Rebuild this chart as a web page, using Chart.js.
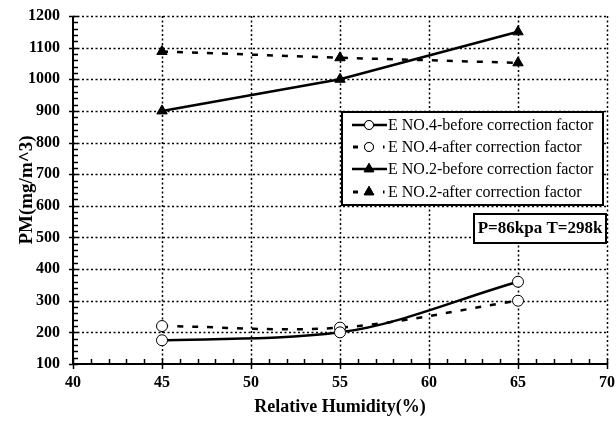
<!DOCTYPE html>
<html>
<head>
<meta charset="utf-8">
<script src="https://cdn.jsdelivr.net/npm/chart.js@4"></script>
<style>
html,body{margin:0;padding:0;background:#fff;}
#wrap{width:616px;height:421px;position:relative;}
</style>
</head>
<body>
<div id="wrap"><canvas id="c" width="616" height="421"></canvas></div>
<script>
// ---- data ----
const humidity = [45, 55, 65];
const no4Before = [175, 200, 360];
const no4After = [220, 215, 300];
const no2Before = [900, 1000, 1150];
const no2After = [1088, 1068, 1052];
const seriesLabels = [
  'E NO.4-before correction factor',
  'E NO.4-after correction factor',
  'E NO.2-before correction factor',
  'E NO.2-after correction factor'
];
const xTicks = [40, 45, 50, 55, 60, 65, 70];
const yTicks = [100, 200, 300, 400, 500, 600, 700, 800, 900, 1000, 1100, 1200];
const noteText = 'P=86kpa T=298k';

const pts = (ys) => humidity.map((x, i) => ({x: x, y: ys[i]}));
const SERIF = '"Liberation Serif","Times New Roman",serif';

const datasets = [
  {label: seriesLabels[0], data: pts(no4Before), borderColor:'#000', borderWidth:2.5, tension:0.4, cubicInterpolationMode:'monotone',
   pointStyle:'circle', pointRadius:5.5, pointBackgroundColor:'#fff', pointBorderColor:'#000', pointBorderWidth:1, borderDash:[]},
  {label: seriesLabels[1], data: pts(no4After), borderColor:'#000', borderWidth:2.5, tension:0.35,
   pointStyle:'circle', pointRadius:5.5, pointBackgroundColor:'#fff', pointBorderColor:'#000', pointBorderWidth:1, borderDash:[6,9]},
  {label: seriesLabels[2], data: pts(no2Before), borderColor:'#000', borderWidth:2.5, tension:0,
   pointStyle:'triangle', pointRadius:6, pointBackgroundColor:'#000', pointBorderColor:'#000', pointBorderWidth:1, borderDash:[]},
  {label: seriesLabels[3], data: pts(no2After), borderColor:'#000', borderWidth:2.5, tension:0,
   pointStyle:'triangle', pointRadius:6, pointBackgroundColor:'#000', pointBorderColor:'#000', pointBorderWidth:1, borderDash:[6,9]}
];

const decor = {
  id: 'decor',
  beforeDatasetsDraw(chart) {
    const ctx = chart.ctx, xs = chart.scales.x, ys = chart.scales.y, a = chart.chartArea;
    ctx.save();
    // dotted grid
    ctx.strokeStyle = '#000'; ctx.lineWidth = 1.5; ctx.setLineDash([2, 2.5]);
    xTicks.forEach(v => { if (v === xTicks[0]) return; const p = Math.round(xs.getPixelForValue(v)) + 0.5;
      ctx.beginPath(); ctx.moveTo(p, a.top); ctx.lineTo(p, a.bottom); ctx.stroke(); });
    yTicks.forEach(v => { if (v === yTicks[0]) return; const p = Math.round(ys.getPixelForValue(v)) + 0.5;
      ctx.beginPath(); ctx.moveTo(a.left, p); ctx.lineTo(a.right, p); ctx.stroke(); });
    ctx.setLineDash([]);
    // axis lines
    ctx.lineWidth = 2;
    ctx.beginPath(); ctx.moveTo(a.left, a.top); ctx.lineTo(a.left, a.bottom); ctx.lineTo(a.right, a.bottom); ctx.stroke();
    // x ticks
    ctx.lineWidth = 1.5;
    for (let v = xTicks[0]; v <= xTicks[xTicks.length - 1]; v += 1) {
      const p = Math.round(xs.getPixelForValue(v)) + 0.5;
      const major = (v % 5 === 0);
      ctx.beginPath(); ctx.moveTo(p, a.bottom - 5); ctx.lineTo(p, a.bottom + (major ? 5 : 0)); ctx.stroke();
    }
    // y ticks
    for (let v = yTicks[0]; v <= yTicks[yTicks.length - 1]; v += 20) {
      const p = Math.round(ys.getPixelForValue(v)) + 0.5;
      const major = (v % 100 === 0);
      ctx.beginPath(); ctx.moveTo(a.left - (major ? 4 : 0), p); ctx.lineTo(a.left + 5, p); ctx.stroke();
    }
    ctx.restore();
  },
  afterDatasetsDraw(chart) {
    const ctx = chart.ctx;
    ctx.save();
    // legend box
    const L = 342, T = 112, R = 603, B = 205;
    ctx.fillStyle = '#fff'; ctx.fillRect(L, T, R - L, B - T);
    ctx.strokeStyle = '#000'; ctx.lineWidth = 2; ctx.setLineDash([]);
    ctx.strokeRect(L, T, R - L, B - T);
    const rows = [125, 147, 169, 192];
    chart.data.datasets.forEach((ds, i) => {
      const y = rows[i];
      ctx.strokeStyle = ds.borderColor; ctx.lineWidth = 2.5;
      if (ds.borderDash && ds.borderDash.length) {
        ctx.fillStyle = '#000';
        ctx.fillRect(353, y - 1.5, 5, 3);
        ctx.fillRect(383, y - 1.5, 1.5, 3);
      } else {
        ctx.beginPath(); ctx.moveTo(352, y); ctx.lineTo(387, y); ctx.stroke();
      }
      ctx.lineWidth = 1;
      ctx.fillStyle = ds.pointBackgroundColor;
      Chart.helpers.drawPoint(ctx, {pointStyle: ds.pointStyle, radius: ds.pointStyle === 'triangle' ? 5.5 : 4.5, borderWidth: 1, rotation: 0}, 369, y);
      ctx.fill(); ctx.stroke();
      ctx.fillStyle = '#000';
      ctx.font = '16px ' + SERIF; ctx.textBaseline = 'middle'; ctx.textAlign = 'left';
      ctx.fillText(ds.label, 388, y + 1);
    });
    // note box
    ctx.fillStyle = '#fff'; ctx.fillRect(474, 214, 132, 29);
    ctx.lineWidth = 2; ctx.strokeStyle = '#000'; ctx.strokeRect(474, 214, 132, 29);
    ctx.fillStyle = '#000'; ctx.font = 'bold 17px ' + SERIF; ctx.textAlign = 'center'; ctx.textBaseline = 'middle';
    ctx.fillText(noteText, 540, 229);
    ctx.restore();
  }
};

new Chart(document.getElementById('c'), {
  type: 'scatter',
  data: {datasets: datasets.map(d => Object.assign({showLine: true}, d))},
  options: {
    responsive: false, animation: false,
    layout: {padding: {top: 16, right: 9, left: 0, bottom: 0}},
    plugins: {legend: {display: false}, tooltip: {enabled: false}},
    scales: {
      x: {
        type: 'linear', min: 40, max: 70,
        afterBuildTicks: (s) => { s.ticks = xTicks.map(v => ({value: v})); },
        afterFit: (s) => { s.height = 57; s.paddingLeft = 0; s.paddingRight = 0; },
        grid: {display: false, drawTicks: false}, border: {display: false},
        ticks: {color: '#000', font: {family: SERIF, size: 16, weight: 'bold'}, padding: 9, maxRotation: 0,
                callback: (v) => String(v)},
        title: {display: true, text: 'Relative Humidity(%)', color: '#000', font: {family: SERIF, size: 18, weight: 'bold'}, padding: {top: 0, bottom: 3}}
      },
      y: {
        type: 'linear', min: 100, max: 1200,
        afterBuildTicks: (s) => { s.ticks = yTicks.map(v => ({value: v})); },
        afterFit: (s) => { s.width = 73; s.paddingTop = 0; s.paddingBottom = 0; },
        grid: {display: false, drawTicks: false}, border: {display: false},
        ticks: {color: '#000', font: {family: SERIF, size: 16, weight: 'bold'}, padding: 13,
                callback: (v) => String(v)},
        title: {display: true, text: 'PM(mg/m^3)', color: '#000', font: {family: SERIF, size: 19, weight: 'bold'}, padding: {top: 16, bottom: 6}}
      }
    }
  },
  plugins: [decor]
});
</script>
</body>
</html>
